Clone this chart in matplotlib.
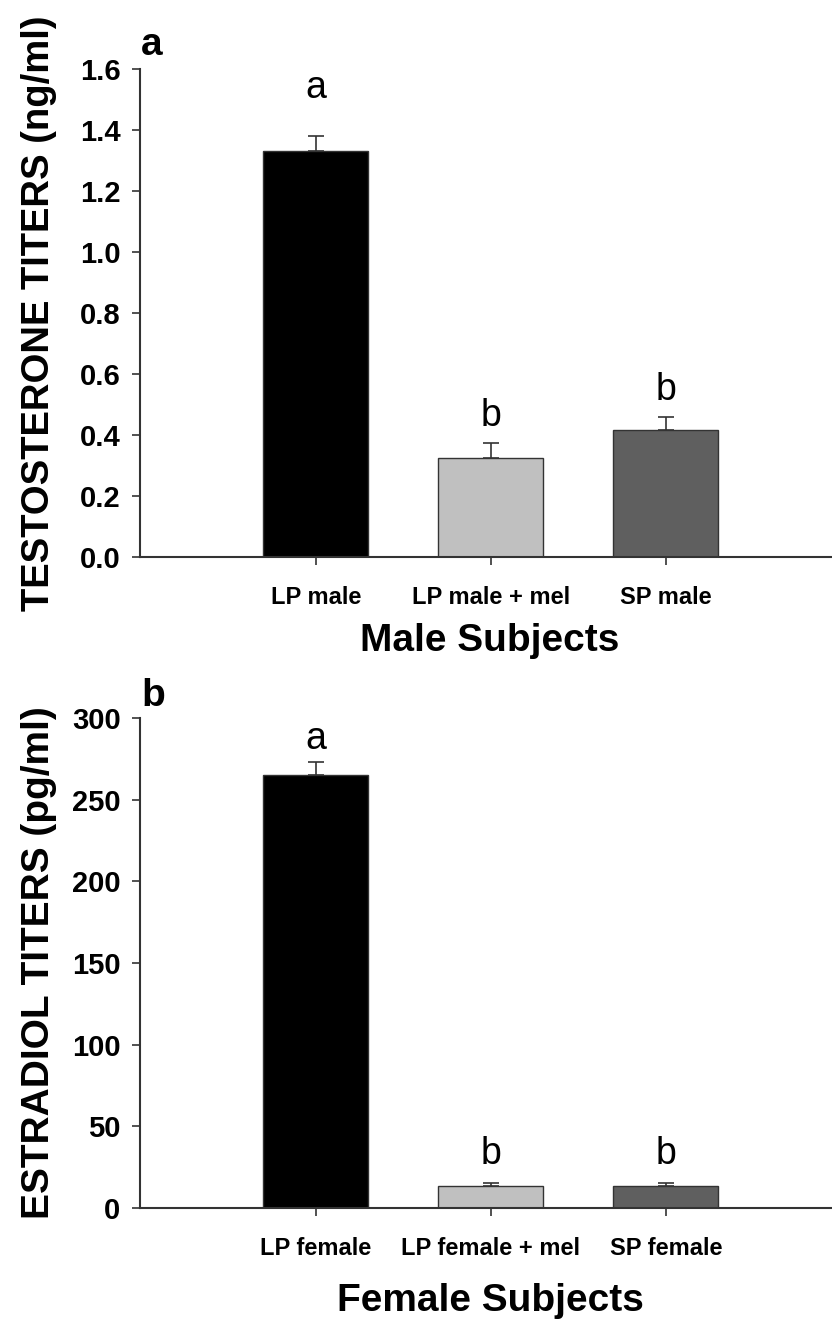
import matplotlib
matplotlib.use("Agg")
import matplotlib.pyplot as plt
from matplotlib.ticker import FormatStrFormatter

# Data
male_groups = ["LP male", "LP male + mel", "SP male"]
male_means = [1.33, 0.325, 0.415]
male_sem = [0.05, 0.05, 0.045]
male_letters = ["a", "b", "b"]

female_groups = ["LP female", "LP female + mel", "SP female"]
female_means = [265, 13.5, 13.5]
female_sem = [8, 2, 2]
female_letters = ["a", "b", "b"]

bar_colors = ["#000000", "#c0c0c0", "#5f5f5f"]
edge = "#333333"

narrow = ["Liberation Sans Narrow", "Liberation Sans", "DejaVu Sans"]
wide = ["Liberation Sans", "DejaVu Sans"]

fig = plt.figure(figsize=(8.32, 13.21), dpi=100)
W, H = 832, 1321


def panel(rect, groups, means, sems, letters, ylim, yticks, ylabel, xlabel,
          letter_offsets, xlabel_y, fmt, ylabel_size):
    ax = fig.add_axes(rect)
    x = list(range(len(groups)))
    ax.bar(x, means, width=0.6, color=bar_colors, edgecolor=edge,
           linewidth=1.0, zorder=2)
    ax.errorbar(x, means, yerr=[[0] * len(sems), sems], fmt="none",
                ecolor=edge, elinewidth=1.2, capsize=6, capthick=1.2,
                zorder=1)
    for xi, m, s, lt, off in zip(x, means, sems, letters, letter_offsets):
        ax.annotate(lt, (xi, m + s), xytext=(0, off), textcoords="offset points",
                    ha="center", va="bottom", fontsize=27, family=wide)
    ax.set_xlim(-1.006, 2.95)
    ax.set_ylim(*ylim)
    ax.set_yticks(yticks)
    ax.yaxis.set_major_formatter(FormatStrFormatter(fmt))
    ax.set_xticks(x)
    ax.set_xticklabels(groups, family=narrow, fontweight="bold", fontsize=17)
    ax.set_yticklabels([fmt % v for v in yticks], family=narrow,
                       fontweight="bold", fontsize=21)
    for s in ["top", "right"]:
        ax.spines[s].set_visible(False)
    for s in ["left", "bottom"]:
        ax.spines[s].set_color(edge)
        ax.spines[s].set_linewidth(1.5)
    ax.tick_params(axis="y", direction="out", length=6, width=1.2, color=edge, pad=8)
    ax.tick_params(axis="x", direction="out", length=6, width=1.2, color=edge, pad=15)
    ax.set_ylabel(ylabel, family=wide, fontweight="bold", fontsize=ylabel_size)
    ax.yaxis.set_label_coords(-0.12, 0.5)
    ax.set_xlabel(xlabel, family=wide, fontweight="bold", fontsize=28)
    ax.xaxis.set_label_coords(0.506, xlabel_y)
    ax.xaxis.label.set_va("top")
    return ax


ax1 = panel([140 / W, 1 - 557 / H, 692 / W, 488 / H],
            male_groups, male_means, male_sem, male_letters,
            (0, 1.6), [0.0, 0.2, 0.4, 0.6, 0.8, 1.0, 1.2, 1.4, 1.6],
            "TESTOSTERONE TITERS (ng/ml)", "Male Subjects", [22, 6, 6], -0.135,
            "%.1f", 27.5)

ax2 = panel([140 / W, 1 - 1208 / H, 692 / W, 490 / H],
            female_groups, female_means, female_sem, female_letters,
            (0, 300), [0, 50, 100, 150, 200, 250, 300],
            "ESTRADIOL TITERS (pg/ml)", "Female Subjects", [4, 8, 8], -0.153,
            "%d", 28)

fig.text(141 / W, 1 - 55 / H, "a", family=wide, fontweight="bold", fontsize=28,
         va="baseline", ha="left")
fig.text(141 / W, 1 - 706 / H, "b", family=wide, fontweight="bold", fontsize=28,
         va="baseline", ha="left")

fig.savefig("out.png", dpi=100)
